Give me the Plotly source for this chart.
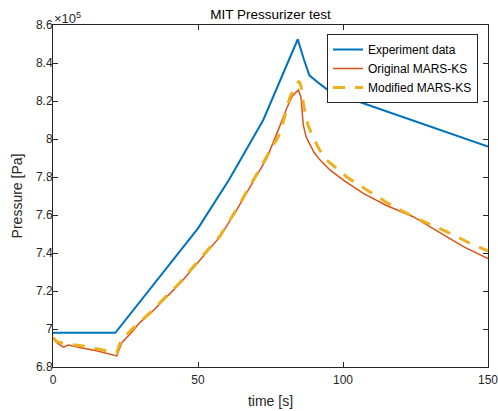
import plotly.graph_objects as go

# ---- data (time in s, pressure in Pa) ----
t_exp = [0, 21.5, 50, 60.7, 72.5, 84.4, 86.5, 88.4, 92, 95.5, 100, 110, 122, 135.7, 150]
p_exp = [6.98e5, 6.98e5, 7.53e5, 7.785e5, 8.10e5, 8.525e5, 8.42e5, 8.335e5, 8.29e5,
         8.25e5, 8.225e5, 8.172e5, 8.11e5, 8.035e5, 7.96e5]

t_orig = [0, 1.5, 3.6, 5.3, 10, 15, 22, 23.7, 27, 30, 33.4, 36.9, 43.8, 50.7, 57.6,
          63.3, 67.9, 73.7, 78, 80.6, 82.5, 84.6, 85.5, 86.3, 87.3, 88.6, 90, 92.1,
          95.5, 100, 107, 115, 124.2, 135.7, 142, 150]
p_orig = [6.951e5, 6.925e5, 6.904e5, 6.916e5, 6.90e5, 6.885e5, 6.858e5, 6.928e5,
          6.98e5, 7.035e5, 7.079e5, 7.135e5, 7.24e5, 7.363e5, 7.486e5, 7.626e5,
          7.749e5, 7.898e5, 8.06e5, 8.162e5, 8.225e5, 8.258e5, 8.22e5, 8.074e5,
          8.01e5, 7.968e5, 7.93e5, 7.889e5, 7.837e5, 7.785e5, 7.714e5, 7.65e5,
          7.591e5, 7.486e5, 7.43e5, 7.37e5]

t_mod = [0, 1.3, 5, 10.4, 15, 19.7, 22, 23.5, 27, 33.4, 36.9, 43.8, 50.7, 57.6,
         63.3, 67.9, 73.7, 78.3, 81.7, 83.5, 84.8, 85.5, 86.5, 88, 90, 92, 94.4,
         97.5, 101.3, 108.2, 117.4, 126.6, 135.7, 143.8, 150]
p_mod = [6.955e5, 6.933e5, 6.92e5, 6.91e5, 6.896e5, 6.881e5, 6.875e5, 6.942e5,
         6.995e5, 7.085e5, 7.14e5, 7.245e5, 7.37e5, 7.49e5, 7.63e5, 7.755e5,
         7.905e5, 8.03e5, 8.22e5, 8.275e5, 8.305e5, 8.28e5, 8.17e5, 8.07e5,
         8.0e5, 7.94e5, 7.889e5, 7.85e5, 7.80e5, 7.732e5, 7.644e5, 7.574e5,
         7.512e5, 7.451e5, 7.41e5]

x_ticks = [0, 50, 100, 150]
y_ticks = [6.8e5, 7.0e5, 7.2e5, 7.4e5, 7.6e5, 7.8e5, 8.0e5, 8.2e5, 8.4e5, 8.6e5]
y_ticklabels = ["6.8", "7", "7.2", "7.4", "7.6", "7.8", "8", "8.2", "8.4", "8.6"]

names = ["Experiment data", "Original MARS-KS", "Modified MARS-KS"]

FONT = "Liberation Sans, Arial, sans-serif"
AX = "#262626"

fig = go.Figure()
fig.add_trace(go.Scatter(x=t_exp, y=p_exp, mode="lines", name=names[0],
                         line=dict(color="#0072BD", width=2)))
fig.add_trace(go.Scatter(x=t_orig, y=p_orig, mode="lines", name=names[1],
                         line=dict(color="#D95319", width=1.5)))
fig.add_trace(go.Scatter(x=t_mod, y=p_mod, mode="lines", name=names[2],
                         line=dict(color="#EDB120", width=3, dash="12px,10px")))

axis_common = dict(showline=True, linecolor=AX, linewidth=1, mirror="ticks",
                   ticks="inside", ticklen=5, tickcolor=AX, tickwidth=1,
                   showgrid=False, zeroline=False, automargin=False,
                   ticklabeloverflow="allow",
                   tickfont=dict(family=FONT, size=12, color=AX))

fig.update_xaxes(range=[0, 150], tickvals=x_ticks, ticklabelstandoff=2,
                 title=dict(text="time [s]", font=dict(family=FONT, size=14, color=AX),
                            standoff=9),
                 **axis_common)
fig.update_yaxes(range=[6.8e5, 8.6e5], tickvals=y_ticks, ticktext=y_ticklabels,
                 ticklabelstandoff=-3,
                 title=dict(text="Pressure [Pa]", font=dict(family=FONT, size=14, color=AX),
                            standoff=10),
                 **axis_common)

fig.update_layout(
    width=498, height=411,
    margin=dict(l=53, r=10, t=25, b=44),
    plot_bgcolor="white", paper_bgcolor="white",
    title=dict(text="MIT Pressurizer test", x=(53 + 488) / 2 / 498, xanchor="center",
               y=1 - 14.5 / 411, yanchor="middle",
               font=dict(family=FONT, size=13.5, color="black")),
    legend=dict(x=(478 - 53) / 435, y=(367 - 34) / 342, xanchor="right", yanchor="top",
                bgcolor="white", bordercolor=AX, borderwidth=1,
                font=dict(family=FONT, size=12, color="black"),
                tracegroupgap=0),
    annotations=[dict(text="×10<sup>5</sup>", x=0, y=1, xref="paper", yref="paper",
                      xanchor="left", yanchor="bottom", showarrow=False,
                      font=dict(family=FONT, size=13, color=AX), yshift=-3, xshift=-1)],
)

fig.write_html("out.html", config={"displayModeBar": False},
               post_script="document.body.style.margin='0';document.body.style.overflow='hidden';")
